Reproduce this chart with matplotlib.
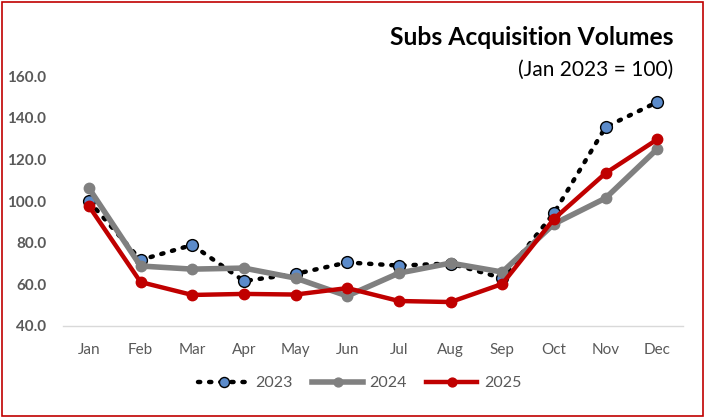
import matplotlib
matplotlib.use("Agg")
import matplotlib.pyplot as plt
from matplotlib.patches import Rectangle

plt.rcParams['font.family'] = ['Lato', 'DejaVu Sans']

months = ["Jan", "Feb", "Mar", "Apr", "May", "Jun", "Jul", "Aug", "Sep", "Oct", "Nov", "Dec"]
v2023 = [100.0, 71.7, 78.9, 61.6, 65.0, 70.5, 69.0, 70.0, 63.0, 94.2, 135.5, 147.5]
v2024 = [106.2, 68.8, 67.3, 67.8, 63.0, 54.4, 65.4, 70.2, 65.9, 89.0, 101.4, 125.0]
v2025 = [97.6, 61.1, 54.9, 55.4, 55.1, 58.2, 52.0, 51.5, 60.2, 91.4, 113.4, 129.6]
yticks = [40, 60, 80, 100, 120, 140, 160]

fig = plt.figure(figsize=(7.05, 4.18), dpi=100)
ax = fig.add_axes([0.0894, 0.2201, 0.8796, 0.598])
x = list(range(len(months)))

ax.plot(x, v2023, color='black', linestyle=(0, (0.5, 2.0)), linewidth=3.2,
        dash_capstyle='round', marker='o', markersize=8.5,
        markerfacecolor='#5B8BCB', markeredgecolor='black', markeredgewidth=1.0,
        label='2023', zorder=3)
ax.plot(x, v2024, color='#808080', linewidth=4, marker='o', markersize=7.5,
        markerfacecolor='#808080', markeredgecolor='#808080', label='2024', zorder=4)
ax.plot(x, v2025, color='#C00000', linewidth=3.2, marker='o', markersize=7.5,
        markerfacecolor='#C00000', markeredgecolor='#C00000', label='2025', zorder=5)

ax.set_xlim(-0.5, len(months) - 0.5)
ax.set_ylim(40, 160)
ax.set_xticks(x)
ax.set_xticklabels(months, fontsize=11, color='#595959')
ax.set_yticks(yticks)
ax.set_yticklabels([f"{t:.1f}" for t in yticks], fontsize=11, color='#595959', fontweight='bold')
ax.tick_params(axis='both', length=0)
ax.tick_params(axis='x', pad=12)
ax.tick_params(axis='y', pad=12)
for s in ['top', 'right', 'left']:
    ax.spines[s].set_visible(False)
ax.spines['bottom'].set_color('#D9D9D9')
ax.spines['bottom'].set_linewidth(1)

fig.text(0.955, 0.91, "Subs Acquisition Volumes", ha='right', va='center',
         fontsize=17.7, fontweight='bold', color='black')
fig.text(0.955, 0.832, "(Jan 2023 = 100)", ha='right', va='center',
         fontsize=15, color='black')

leg = fig.legend(loc='center', bbox_to_anchor=(0.51, 0.083), ncol=3, frameon=False,
                 fontsize=11.5, handlelength=3.2, columnspacing=1.2, handletextpad=0.4,
                 markerscale=0.85)
for t in leg.get_texts():
    t.set_color('#595959')

fig.patches.append(Rectangle((0.003, 0.004), 0.994, 0.992, transform=fig.transFigure,
                             fill=False, edgecolor='#C00000', linewidth=1.2))

fig.savefig("out.png", dpi=100)
